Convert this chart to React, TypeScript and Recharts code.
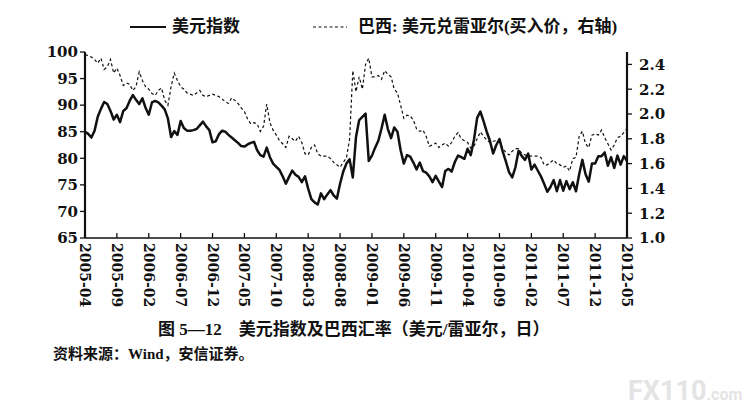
import React from 'react';
import { LineChart, Line, XAxis, YAxis } from 'recharts';

// 2005-04 .. 2012-05, two readings per month
const tickLabels = [
  '2005-04', '2005-09', '2006-02', '2006-07', '2006-12', '2007-05',
  '2007-10', '2008-03', '2008-08', '2009-01', '2009-06', '2009-11',
  '2010-04', '2010-09', '2011-02', '2011-07', '2011-12', '2012-05',
];

const dollarIndex = [
  85.0, 84.6, 83.9, 85.2, 87.8, 89.3, 90.6, 90.2, 88.9, 87.3,
  88.2, 86.8, 88.9, 89.4, 90.8, 91.9, 91.0, 90.2, 91.3, 89.5,
  88.2, 90.5, 90.8, 90.5, 89.9, 89.2, 87.5, 84.0, 85.1, 84.4,
  87.0, 85.7, 85.2, 85.2, 85.3, 85.5, 86.2, 86.9, 86.0, 85.3,
  83.0, 83.2, 84.5, 85.2, 85.0, 84.4, 83.9, 83.4, 82.9, 82.3,
  82.2, 82.6, 82.9, 83.1, 81.5, 80.6, 80.3, 82.0, 80.2, 79.0,
  78.4, 77.8, 76.6, 75.2, 76.5, 77.7, 76.9, 76.5, 75.5, 76.6,
  74.3, 72.3, 71.7, 71.3, 73.4, 72.3, 73.2, 74.0, 73.0, 72.4,
  75.2, 77.5, 79.0, 79.8, 76.4, 84.0, 87.2, 87.8, 88.4, 79.5,
  80.5, 82.0, 83.3, 85.6, 88.2, 85.5, 83.8, 85.8, 85.0, 81.5,
  79.0, 80.6, 80.3, 79.2, 77.9, 79.2, 77.6, 77.3, 76.6, 75.5,
  76.7, 75.6, 74.6, 77.6, 78.0, 77.5, 79.3, 80.5, 80.2, 79.9,
  81.8, 80.6, 83.5, 87.6, 88.8, 87.0, 85.0, 83.3, 80.9, 82.5,
  83.6, 81.3, 79.4, 77.4, 76.4, 78.3, 81.4, 80.4, 79.7, 80.9,
  77.9, 78.8, 77.7, 76.6, 75.2, 73.7, 74.6, 75.9, 73.8, 75.9,
  73.9, 75.7, 74.2, 75.5, 73.8, 77.0, 79.7, 77.0, 75.6, 79.0,
  79.0, 80.4, 80.4, 81.1, 78.6, 80.2, 78.2, 80.5, 78.8, 80.4,
  79.5,
];

const usdBrl = [
  2.48, 2.47, 2.46, 2.44, 2.41, 2.45, 2.36, 2.38, 2.44, 2.33,
  2.37, 2.31, 2.23, 2.25, 2.24, 2.19, 2.22, 2.34, 2.27, 2.22,
  2.20, 2.165, 2.15, 2.19, 2.21, 2.11, 2.07, 2.22, 2.33, 2.27,
  2.22, 2.20, 2.17, 2.16, 2.15, 2.17, 2.19, 2.15, 2.14, 2.15,
  2.16, 2.15, 2.14, 2.12, 2.10, 2.085, 2.13, 2.11, 2.085, 2.05,
  2.02, 1.96, 1.92, 1.93, 1.92, 1.86, 1.90, 2.08, 1.93, 1.87,
  1.83, 1.785, 1.76, 1.73, 1.82, 1.80, 1.78, 1.82, 1.77, 1.68,
  1.67, 1.73, 1.75, 1.68, 1.66, 1.66, 1.66, 1.64, 1.61, 1.59,
  1.57, 1.61, 1.645, 1.80, 2.35, 2.18, 2.30, 2.20, 2.40, 2.45,
  2.30, 2.30, 2.31, 2.28, 2.35, 2.32, 2.30, 2.20, 2.17, 2.07,
  1.965, 1.99, 1.985, 1.95, 1.88, 1.86, 1.87, 1.82, 1.74, 1.75,
  1.765, 1.73, 1.75, 1.765, 1.74, 1.77, 1.82, 1.85, 1.80, 1.785,
  1.77, 1.725, 1.74, 1.80, 1.855, 1.82, 1.79, 1.77, 1.78, 1.785,
  1.78, 1.72, 1.69, 1.67, 1.70, 1.72, 1.72, 1.68, 1.67, 1.665,
  1.66, 1.66, 1.66, 1.65, 1.59, 1.59, 1.61, 1.63, 1.60, 1.59,
  1.57, 1.58, 1.54, 1.64, 1.65, 1.82, 1.86, 1.76, 1.73, 1.83,
  1.84, 1.83, 1.87, 1.81, 1.76, 1.71, 1.75, 1.81, 1.82, 1.85,
  1.88,
];

const leftTicks = [65, 70, 75, 80, 85, 90, 95, 100];
const rightTicks = [1.0, 1.2, 1.4, 1.6, 1.8, 2.0, 2.2, 2.4];

const data = dollarIndex.map((v, i) => ({ t: i / 2, dxy: v, brl: usdBrl[i] }));
const monthTicks = tickLabels.map((_, i) => i * 5);

const numFont = '"DejaVu Serif", "Liberation Serif", serif';
const cjkFont = '"Liberation Serif", "Noto Sans CJK SC", sans-serif';

function MonthTick(props: any) {
  const { x, y, payload } = props;
  const label = tickLabels[Math.round(payload.value / 5)];
  const ty = y + 5;
  return (
    <g>
      <line x1={x} y1={y} x2={x} y2={y - 5} stroke="#111" strokeWidth={1.3} />
      <text
        x={x}
        y={ty}
        transform={`rotate(90 ${x} ${ty})`}
        textAnchor="start"
        dominantBaseline="central"
        fontFamily={numFont}
        fontWeight={700}
        fontSize={14}
        fill="#111"
      >
        {label}
      </text>
    </g>
  );
}

export default function App() {
  const tickStyle = { fontFamily: numFont, fontWeight: 700, fontSize: 15, fill: '#111' };
  return (
    <div style={{ position: 'relative', width: 747, height: 402, background: '#fff' }}>
      <div style={{ position: 'absolute', left: 122, top: 10, display: 'flex', alignItems: 'center', fontFamily: cjkFont, fontWeight: 700, fontSize: 17, lineHeight: '17px', color: '#111' }}>
        <svg width={36} height={6}><line x1={0} y1={3} x2={36} y2={3} stroke="#111" strokeWidth={2.2} /></svg>
        <span style={{ marginLeft: 6 }}>美元指数</span>
      </div>
      <div style={{ position: 'absolute', left: 305, top: 10, display: 'flex', alignItems: 'center', fontFamily: cjkFont, fontWeight: 700, fontSize: 17, lineHeight: '17px', color: '#111' }}>
        <svg width={34} height={6}><line x1={0} y1={3} x2={34} y2={3} stroke="#111" strokeWidth={1.2} strokeDasharray="3 2.5" /></svg>
        <span style={{ marginLeft: 11 }}>巴西: 美元兑雷亚尔(买入价，右轴)</span>
      </div>

      <LineChart width={740} height={330} data={data} margin={{ top: 44, right: 71, bottom: 20, left: 27 }}>
        <XAxis
          dataKey="t"
          type="number"
          domain={[0, 85]}
          ticks={monthTicks}
          interval={0}
          tick={<MonthTick />}
          tickLine={false}
          tickSize={0}
          tickMargin={0}
          height={80}
          axisLine={{ stroke: '#111', strokeWidth: 1.5 }}
        />
        <YAxis
          yAxisId="left"
          domain={[65, 100]}
          ticks={leftTicks}
          interval={0}
          width={50}
          tick={tickStyle}
          tickSize={5}
          tickMargin={2}
          tickLine={{ stroke: '#111', strokeWidth: 1.3 }}
          axisLine={{ stroke: '#111', strokeWidth: 2.2 }}
        />
        <YAxis
          yAxisId="right"
          orientation="right"
          domain={[1.0, 2.5]}
          ticks={rightTicks}
          interval={0}
          width={50}
          tick={tickStyle}
          tickSize={5}
          tickMargin={7}
          tickFormatter={(v: number) => v.toFixed(1)}
          tickLine={{ stroke: '#111', strokeWidth: 1.3 }}
          axisLine={{ stroke: '#111', strokeWidth: 2.2 }}
        />
        <Line yAxisId="right" dataKey="brl" stroke="#111" strokeWidth={1.2} strokeDasharray="3 2.5" dot={false} isAnimationActive={false} />
        <Line yAxisId="left" dataKey="dxy" stroke="#111" strokeWidth={2.5} dot={false} isAnimationActive={false} strokeLinejoin="round" />
      </LineChart>

      <div style={{ position: 'absolute', left: 150, top: 313, fontFamily: cjkFont, fontWeight: 700, fontSize: 17, lineHeight: '17px', color: '#111', whiteSpace: 'pre' }}>
        图 5—12    美元指数及巴西汇率（美元/雷亚尔，日）
      </div>
      <div style={{ position: 'absolute', left: 45, top: 339, fontFamily: cjkFont, fontWeight: 700, fontSize: 15, lineHeight: '15px', color: '#111' }}>
        资料来源：Wind，安信证券。
      </div>
      <div style={{ position: 'absolute', left: 620, top: 368, fontFamily: '"Roboto", sans-serif', fontWeight: 700, color: '#e4e4e4', lineHeight: '30px' }}>
        <span style={{ fontSize: 27 }}>FX110</span>
        <span style={{ fontSize: 16 }}>.com</span>
      </div>
    </div>
  );
}
